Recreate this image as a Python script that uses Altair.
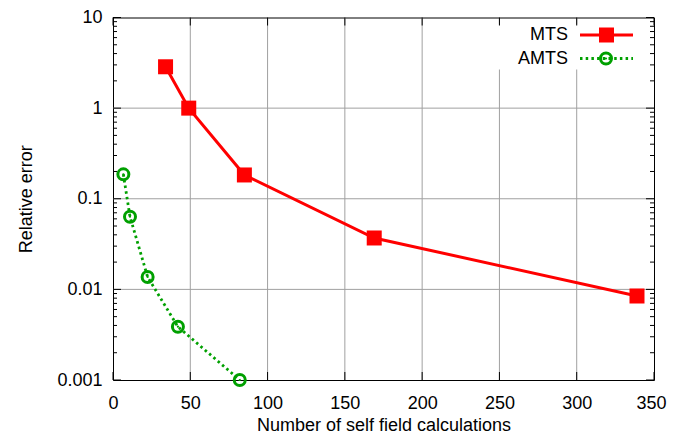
import altair as alt
import pandas as pd
import numpy as np

# ---- data ----
mts_x = [34, 49, 85, 169, 339]
mts_y = [2.86, 1.0, 0.183, 0.0369, 0.00845]
amts_x = [6.7, 11, 22.4, 42, 82]
amts_y = [0.186, 0.0634, 0.0137, 0.00387, 0.001]

series_names = ["MTS", "AMTS"]
x_ticks = [0, 50, 100, 150, 200, 250, 300, 350]
y_major = [0.001, 0.01, 0.1, 1, 10]
y_minor = [m * 10.0 ** k for k in range(-3, 1) for m in range(2, 10)]
x_grid = [50, 100, 150, 200, 250, 300]
y_grid = [0.01, 0.1, 1]

W, H = 541, 362.5
RED = "#ff0000"
GREEN = "#00a000"
FONT = "Liberation Sans"

xs = alt.Scale(domain=[0, 350], nice=False, zero=False)
ys = alt.Scale(type="log", domain=[0.001, 10], nice=False)

mts = pd.DataFrame({"x": mts_x, "y": mts_y})
amts = pd.DataFrame({"x": amts_x, "y": amts_y})

xaxis = alt.Axis(values=x_ticks, grid=False, ticks=False, domain=False,
                 labelFont=FONT, labelFontSize=18, labelColor="black",
                 labelPadding=14, labelFlush=False, labelOverlap=False, format="d",
                 labelOffset={"condition": {"test": "datum.value == 350", "value": -3}, "value": 0},
                 title="Number of self field calculations", titleFont=FONT,
                 titleFontSize=18, titleFontWeight="normal", titleColor="black",
                 titleY=50, titleBaseline="alphabetic")
yaxis = alt.Axis(values=y_major, grid=False, ticks=False, domain=False,
                 labelFont=FONT, labelFontSize=18, labelColor="black",
                 labelPadding=11, labelFlush=False, labelOverlap=False, format="~g",
                 title="Relative error", titleFont=FONT, titleFontSize=18,
                 titleFontWeight="normal", titleColor="black", titleAngle=270,
                 titleX=-82, titleY=H / 2, titleAlign="center",
                 titleBaseline="alphabetic")

X = alt.X("x:Q", scale=xs, axis=xaxis)
Y = alt.Y("y:Q", scale=ys, axis=yaxis)

# grid lines
xgrid = alt.Chart(pd.DataFrame({"x": x_grid})).mark_rule(color="#a0a0a0", strokeWidth=1).encode(x=X)
ygrid = alt.Chart(pd.DataFrame({"y": y_grid})).mark_rule(color="#a0a0a0", strokeWidth=1).encode(y=Y)

# legend box (opaque key)
keybox = alt.Chart(pd.DataFrame({"k": [0]})).mark_rect(fill="white").encode(
    x=alt.value(372), x2=alt.value(W - 1), y=alt.value(7), y2=alt.value(52))

# ticks (inward)
def yticks(vals, length):
    d = pd.DataFrame({"y": vals})
    left = alt.Chart(d).mark_rule(color="black", strokeWidth=1).encode(
        y=Y, x=alt.value(0), x2=alt.value(length))
    right = alt.Chart(d).mark_rule(color="black", strokeWidth=1).encode(
        y=Y, x=alt.value(W), x2=alt.value(W - length))
    return [left, right]

dx = pd.DataFrame({"x": x_ticks})
xt_bottom = alt.Chart(dx).mark_rule(color="black", strokeWidth=1).encode(
    x=X, y=alt.value(H), y2=alt.value(H - 8))
xt_top = alt.Chart(dx).mark_rule(color="black", strokeWidth=1).encode(
    x=X, y=alt.value(0), y2=alt.value(8))

# data
mts_line = alt.Chart(mts).mark_line(color=RED, strokeWidth=3).encode(x=X, y=Y)
mts_pts = alt.Chart(mts).mark_point(shape="square", filled=True, color=RED, size=225, opacity=1).encode(x=X, y=Y)
amts_line = alt.Chart(amts).mark_line(color=GREEN, strokeWidth=2.8, strokeDash=[2.5, 3.2]).encode(x=X, y=Y)
amts_pts = alt.Chart(amts).mark_point(shape="circle", filled=False, color=GREEN, size=121,
                                      strokeWidth=3, opacity=1).encode(x=X, y=Y)
amts_dot = alt.Chart(amts).mark_point(shape="circle", filled=True, color=GREEN, size=5, opacity=1).encode(x=X, y=Y)

# legend entries
lg1 = pd.DataFrame({"label": [series_names[0]]})
lg2 = pd.DataFrame({"label": [series_names[1]]})
ly1, ly2 = 17.5, 41
lt1 = alt.Chart(lg1).mark_text(font=FONT, fontSize=18, align="right", baseline="middle",
                               color="black").encode(text="label:N", x=alt.value(455), y=alt.value(ly1))
lt2 = alt.Chart(lg2).mark_text(font=FONT, fontSize=18, align="right", baseline="middle",
                               color="black").encode(text="label:N", x=alt.value(455), y=alt.value(ly2))
ll1 = alt.Chart(lg1).mark_rule(color=RED, strokeWidth=3).encode(
    x=alt.value(467), x2=alt.value(520), y=alt.value(ly1))
lp1 = alt.Chart(lg1).mark_point(shape="square", filled=True, color=RED, size=225, opacity=1).encode(
    x=alt.value(493.5), y=alt.value(ly1))
ll2 = alt.Chart(lg2).mark_rule(color=GREEN, strokeWidth=2.8, strokeDash=[2.5, 3.2]).encode(
    x=alt.value(467), x2=alt.value(520), y=alt.value(ly2))
lp2 = alt.Chart(lg2).mark_point(shape="circle", filled=False, color=GREEN, size=121,
                                strokeWidth=3, opacity=1).encode(x=alt.value(493), y=alt.value(ly2))
ld2 = alt.Chart(lg2).mark_point(shape="circle", filled=True, color=GREEN, size=5, opacity=1).encode(
    x=alt.value(493), y=alt.value(ly2))

layers = [xgrid, ygrid, keybox] + yticks(y_major, 8) + yticks(y_minor, 4) + [
    xt_bottom, xt_top, mts_line, amts_line, mts_pts, amts_pts, amts_dot,
    lt1, lt2, ll1, lp1, ll2, lp2, ld2]

chart = alt.layer(*layers).properties(
    width=W, height=H,
    padding={"left": 105, "top": 9.5, "right": 13, "bottom": 55},
    autosize=alt.AutoSizeParams(type="none"),
    background="white",
).configure_view(stroke="black", strokeWidth=1)

chart.save("out.html", embed_options={"renderer": "svg", "actions": False})
